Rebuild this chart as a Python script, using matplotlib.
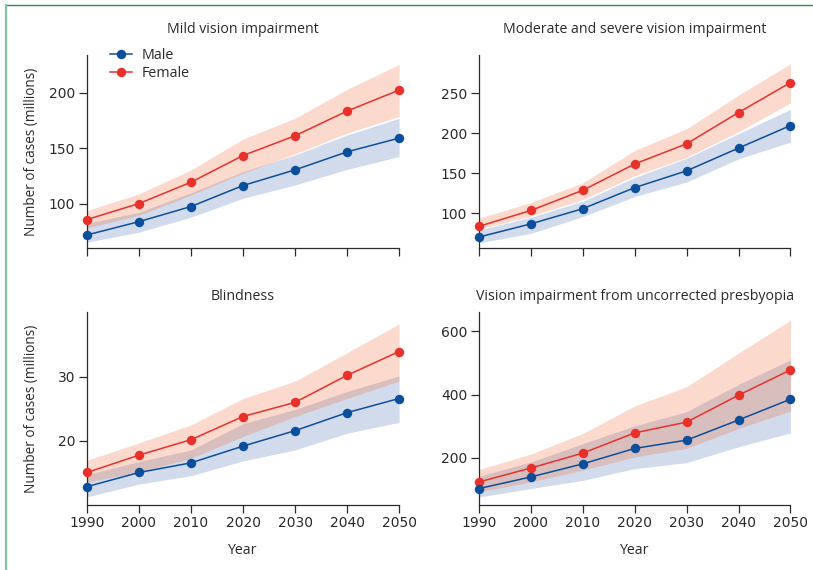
import matplotlib
matplotlib.use("Agg")
import matplotlib.pyplot as plt
from matplotlib.lines import Line2D

plt.rcParams['font.family'] = ['Open Sans', 'DejaVu Sans']

years = [1990, 2000, 2010, 2020, 2030, 2040, 2050]

# Mild vision impairment
mild_male = [72, 84, 97.6, 116.5, 130.6, 146.8, 159.2]
mild_female = [85.9, 100.3, 119.5, 143.5, 161.3, 183.5, 202.4]
mild_male_lo = [65.5, 74.5, 88, 105, 117, 131, 142.6]
mild_male_hi = [82.6, 92.4, 110, 129, 144, 162, 177]
mild_female_lo = [78.4, 89.8, 108, 127.6, 145, 163.7, 178.7]
mild_female_hi = [94, 109, 130.5, 158.3, 177, 203, 225.5]

# Moderate and severe vision impairment
mod_male = [70.1, 86.6, 105.6, 132, 153, 181.5, 209.7]
mod_female = [83.5, 103.4, 128.7, 161.6, 186.9, 226, 263.5]
mod_male_lo = [62.8, 74.7, 95.7, 120.8, 139, 168, 189]
mod_male_hi = [79, 95, 115, 144.8, 168.8, 199.6, 230]
mod_female_lo = [80, 96.5, 117, 146.8, 170, 202, 238]
mod_female_hi = [93.7, 113.4, 138, 178.5, 205.7, 247.8, 287]

# Blindness
blind_male = [12.9, 15.1, 16.6, 19.2, 21.6, 24.4, 26.6]
blind_female = [15.1, 17.8, 20.2, 23.8, 26.0, 30.2, 33.9]
blind_male_lo = [11.3, 13.3, 14.6, 16.9, 18.6, 21.2, 22.9]
blind_male_hi = [14.8, 16.8, 18.6, 22.7, 24.9, 27.7, 30.1]
blind_female_lo = [13.6, 15.2, 17.3, 20.7, 23.8, 26.6, 29.3]
blind_female_hi = [17.0, 19.7, 22.5, 26.6, 29.3, 33.7, 38.2]

# Vision impairment from uncorrected presbyopia
presb_male = [102.9, 139.7, 181, 229.8, 256, 319.7, 385.4]
presb_female = [123.8, 168, 215, 279, 313, 398, 478]
presb_male_lo = [76, 103, 129, 166, 185, 235, 279]
presb_male_hi = [142, 187, 245, 301, 346, 432, 510]
presb_female_lo = [92, 124, 161, 203, 230, 293, 348]
presb_female_hi = [163, 212, 277, 364, 425, 531, 635]

titles = ['Mild vision impairment', 'Moderate and severe vision impairment',
          'Blindness', 'Vision impairment from uncorrected presbyopia']

male_col = '#0b4f9c'
female_col = '#e8312b'
text_col = '#2a2a2a'

panels = [
    (mild_male, mild_female, mild_male_lo, mild_male_hi, mild_female_lo, mild_female_hi,
     (60, 234), [100, 150, 200]),
    (mod_male, mod_female, mod_male_lo, mod_male_hi, mod_female_lo, mod_female_hi,
     (56, 298), [100, 150, 200, 250]),
    (blind_male, blind_female, blind_male_lo, blind_male_hi, blind_female_lo, blind_female_hi,
     (10, 40), [20, 30]),
    (presb_male, presb_female, presb_male_lo, presb_male_hi, presb_female_lo, presb_female_hi,
     (50, 660), [200, 400, 600]),
]

fig = plt.figure(figsize=(8.13, 5.7), dpi=100)
positions = [[0.1070, 0.5644, 0.3838, 0.3391],
             [0.5892, 0.5644, 0.3831, 0.3391],
             [0.1070, 0.1135, 0.3838, 0.3386],
             [0.5892, 0.1135, 0.3831, 0.3386]]

for i, (pos, p) in enumerate(zip(positions, panels)):
    male, female, mlo, mhi, flo, fhi, ylim, yticks = p
    ax = fig.add_axes(pos)
    ax.fill_between(years, mlo, mhi, color='#1a4d9c', alpha=0.2, lw=0, zorder=1)
    ax.fill_between(years, flo, fhi, color='#f26b3a', alpha=0.25, lw=0, zorder=2)
    ax.plot(years, male, '-o', color=male_col, lw=1.1, ms=6.8, mew=0,
            clip_on=False, zorder=4, label='Male')
    ax.plot(years, female, '-o', color=female_col, lw=1.1, ms=6.8, mew=0,
            clip_on=False, zorder=3, label='Female')
    ax.set_xlim(1990, 2050)
    ax.set_ylim(*ylim)
    ax.set_xticks(years)
    ax.set_yticks(yticks)
    for s in ['top', 'right']:
        ax.spines[s].set_visible(False)
    for s in ['left', 'bottom']:
        ax.spines[s].set_color('#2b2b2b')
        ax.spines[s].set_linewidth(0.9)
    ax.tick_params(axis='y', length=5.5, width=0.9, color='#2b2b2b', pad=3,
                   labelcolor=text_col)
    ax.tick_params(axis='x', length=6, width=0.9, color='#2b2b2b', pad=1.5,
                   labelcolor=text_col)
    for lab in ax.get_xticklabels() + ax.get_yticklabels():
        lab.set_fontfamily('DejaVu Sans')
        lab.set_fontsize(10)
    pad = 16 if i < 2 else 9
    ax.set_title(titles[i], fontsize=10.2, color=text_col, pad=pad)
    if i < 2:
        ax.set_xticklabels([])
    else:
        ax.set_xlabel('Year', fontsize=10.2, color=text_col)
        ax.xaxis.set_label_coords(0.5, -0.195)
    if i % 2 == 0:
        ax.set_ylabel('Number of cases (millions)', fontsize=9.8, color=text_col)
        ax.yaxis.set_label_coords(-0.155, 0.5)
    if i == 0:
        ax.legend(loc='upper left', bbox_to_anchor=(0.075, 1.035), frameon=False,
                  fontsize=10.3, handlelength=1.5, handletextpad=0.7,
                  labelspacing=0.22, borderpad=0, borderaxespad=0,
                  labelcolor=text_col)

# green frame on top and left
fig.add_artist(Line2D([0.0068, 1.0], [0.9904, 0.9904], color='#2e8b5a', lw=1.0,
                      transform=fig.transFigure))
fig.add_artist(Line2D([0.0068, 0.0068], [0.0, 0.9904], color='#86c3a5', lw=1.6,
                      transform=fig.transFigure))

fig.savefig('out.png', dpi=100)
